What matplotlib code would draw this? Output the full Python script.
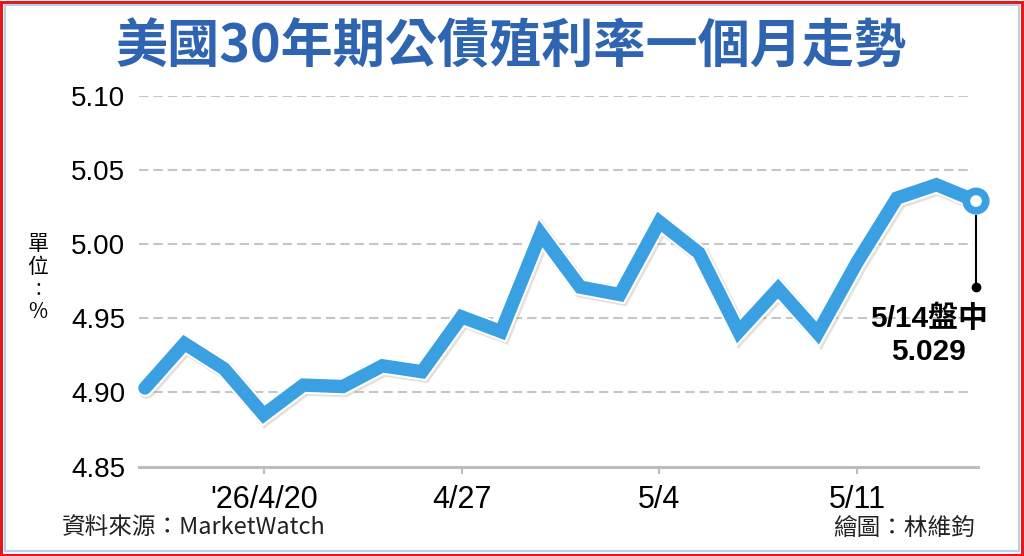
import matplotlib
matplotlib.use("Agg")
import matplotlib.pyplot as plt
import matplotlib.patheffects as pe
from matplotlib.patches import Rectangle

plt.rcParams['font.family'] = ['Liberation Sans', 'Noto Sans CJK TC', 'DejaVu Sans']

# ---- data ----
dates = ['4/15', '4/16', '4/17', '4/20', '4/21', '4/22', '4/23', '4/24',
         '4/27', '4/28', '4/29', '4/30', '5/1', '5/4', '5/5', '5/6', '5/7',
         '5/8', '5/11', '5/12', '5/13', '5/14']
yields = [4.903, 4.933, 4.916, 4.885, 4.905, 4.904, 4.918, 4.914,
          4.951, 4.941, 5.007, 4.971, 4.966, 5.015, 4.994, 4.941, 4.970,
          4.940, 4.988, 5.031, 5.040, 5.029]
tick_idx = [3, 8, 13, 18]
tick_labels = ["'26/4/20", '4/27', '5/4', '5/11']
y_ticks = [4.85, 4.90, 4.95, 5.00, 5.05, 5.10]
title = '美國30年期公債殖利率一個月走勢'
last_label = '5/14盤中'
last_value = '5.029'

W, H = 1024, 556
fig = plt.figure(figsize=(W / 100, H / 100), dpi=100)
fig.patch.set_facecolor('white')

# borders
fig.patches.append(Rectangle((0.001, 0.002), 0.997, 0.995, transform=fig.transFigure,
                             fill=False, edgecolor='#e8161b', linewidth=2.2))
fig.patches.append(Rectangle((5 / W, 5 / H), 1 - 10 / W, 1 - 10 / H, transform=fig.transFigure,
                             fill=False, edgecolor='#b8d0e4', linewidth=1.5))

left, right = 139 / W, 978 / W
bottom, top = 1 - 466.7 / H, 1 - 95.7 / H
ax = fig.add_axes([left, bottom, right - left, top - bottom])
ax.set_facecolor('none')

x = list(range(len(yields)))
blue = '#3aa0e2'
line, = ax.plot(x, yields, color=blue, linewidth=9.6, solid_joinstyle='miter',
                solid_capstyle='round', zorder=3, clip_on=False)
line.set_path_effects([
    pe.SimpleLineShadow(offset=(1.2, -1.2), shadow_color='#a89a88', alpha=0.3, linewidth=13),
    pe.Stroke(linewidth=12.6, foreground='white'),
    pe.Normal(),
])

# end marker
ax.plot([x[-1]], [yields[-1]], marker='o', markersize=14, markeredgewidth=5.5,
        markeredgecolor=blue, markerfacecolor='white', zorder=5, clip_on=False,
        path_effects=[pe.Stroke(linewidth=2, foreground='white'), pe.Normal()])

# annotation leader
y_dot = yields[-1] - 0.058
ax.plot([x[-1], x[-1]], [yields[-1] - 0.010, y_dot], color='black', linewidth=1.5,
        zorder=4, clip_on=False)
ax.plot([x[-1]], [y_dot], marker='o', markersize=6, color='black', zorder=4, clip_on=False)
ax.text(x[-1] - 1.2, y_dot - 0.021, last_label, ha='center', va='center', fontsize=21.5,
        fontweight='bold', color='black', family=['Liberation Sans', 'Noto Sans CJK TC'])
ax.text(x[-1] - 1.2, y_dot - 0.0435, last_value, ha='center', va='center', fontsize=21.5,
        fontweight='bold', color='black', family=['Liberation Sans', 'Noto Sans CJK TC'])

ax.set_xlim(-0.15, 21.05)
ax.set_ylim(4.85, 5.10)
ax.set_yticks(y_ticks)
ax.set_yticklabels([f'{v:.2f}' for v in y_ticks], fontsize=20, family='Liberation Sans')
ax.tick_params(axis='y', length=0, pad=10, colors='black')
ax.set_xticks(tick_idx)
ax.set_xticklabels(tick_labels, fontsize=22, family=['Liberation Sans'])
ax.tick_params(axis='x', length=5, width=1.5, color='#bdbdbd', pad=8, labelcolor='black')

for v in y_ticks[1:]:
    ax.axhline(v, color='#c6c6c6', linewidth=1.5, linestyle=(0, (4.5, 2.4)), zorder=1,
               xmax=0.994)

for s in ['top', 'right', 'left']:
    ax.spines[s].set_visible(False)
ax.spines['bottom'].set_color('#bdbdbd')
ax.spines['bottom'].set_linewidth(2.2)

# title
fig.text(511 / W, 1 - 47 / H, title, ha='center', va='center', fontsize=37.5,
         fontweight='bold', color='#2f64b1', family=['Noto Sans CJK TC'])

# unit label
fig.text(38 / W, 1 - 278 / H, '單\n位\n:\n%', ha='center', va='center', fontsize=15,
         linespacing=1.05, color='black', family=['Noto Sans CJK TC', 'DejaVu Sans'])

# footer
fig.text(62 / W, 1 - 528 / H, '資料來源：MarketWatch', ha='left', va='center', fontsize=17,
         color='#222222', family=['Noto Sans CJK TC', 'DejaVu Sans'])
fig.text(975 / W, 1 - 528 / H, '繪圖：林維鈞', ha='right', va='center', fontsize=17,
         color='#222222', family=['Noto Sans CJK TC', 'DejaVu Sans'])

fig.savefig('out.png', dpi=100, facecolor='white')
